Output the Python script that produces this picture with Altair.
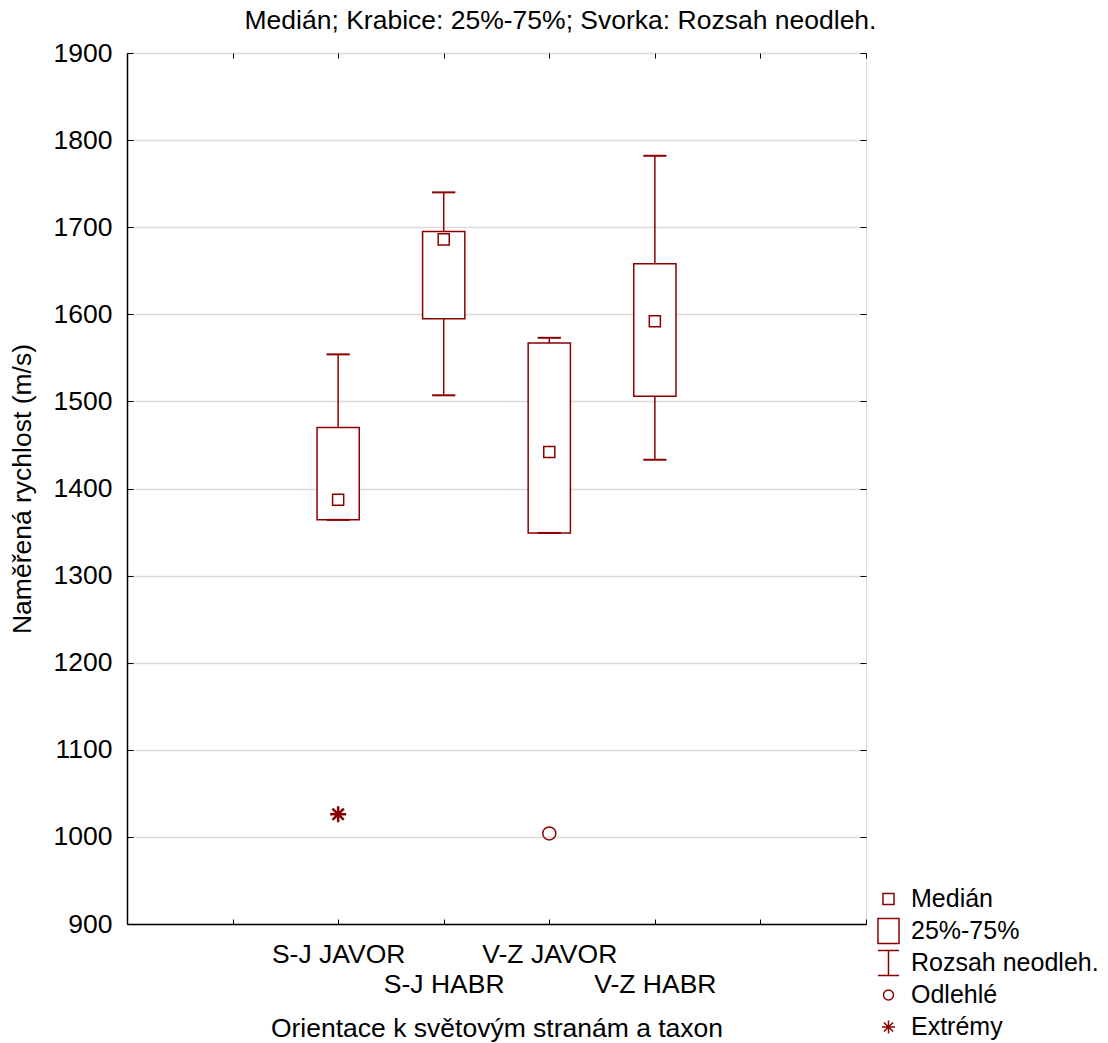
import altair as alt
import pandas as pd

# ---- data ----
categories = ["S-J JAVOR", "S-J HABR", "V-Z JAVOR", "V-Z HABR"]
positions = [2, 3, 4, 5]
medians = [1387, 1686, 1442, 1592]
q1 = [1364, 1595, 1349, 1506]
q3 = [1470, 1695, 1567, 1658]
whisker_low = [1364, 1507, 1349, 1433]
whisker_high = [1554, 1740, 1573, 1782]

outlier_pos = [4]
outlier_val = [1004]
extreme_pos = [2]
extreme_val = [1026]

y_ticks = list(range(900, 2000, 100))
x_ticks = list(range(0, 8))

legend_labels = ["Medián", "25%-75%", "Rozsah neodleh.", "Odlehlé", "Extrémy"]

# ---- styles ----
RED = "#8B0000"
FONT = "Liberation Sans"
FS = 26.5
BOX_HALF = 0.2
CAP_HALF = 0.11

shape_paths = [
    "M-0.41,-0.41H0.41V0.41H-0.41Z",
    "M-0.78,-0.93H0.78V0.93H-0.78Z",
    "M-0.78,-0.93H0.78M0,-0.93V0.93M-0.78,0.93H0.78",
    "M0.37,0A0.37,0.37,0,1,1,-0.37,0A0.37,0.37,0,1,1,0.37,0Z",
    "M-0.48,0H0.48M0,-0.48V0.48M-0.34,-0.34L0.34,0.34M-0.34,0.34L0.34,-0.34",
]

df = pd.DataFrame({
    "cat": categories, "pos": positions, "median": medians,
    "q1": q1, "q3": q3, "wlo": whisker_low, "whi": whisker_high,
})
df["kind"] = "Medián"
out_df = pd.DataFrame({"pos": outlier_pos, "val": outlier_val, "kind": "Odlehlé"})
ext_df = pd.DataFrame({"pos": extreme_pos, "val": extreme_val, "kind": "Extrémy"})

xscale = alt.Scale(domain=[0, 7], nice=False, zero=False)
yscale = alt.Scale(domain=[900, 1900], nice=False, zero=False)

label_parts = []
for i, (p, c) in enumerate(zip(positions, categories)):
    lab = f"'{c}'" if i % 2 == 0 else f"['', '{c}']"
    label_parts.append(f"datum.value == {p} ? {lab} : ")
label_expr = "".join(label_parts) + "''"

x_axis = alt.Axis(
    values=x_ticks, grid=False, tickSize={"expr": "-5"}, tickColor="black",
    domainColor="black", domainWidth=1.5, labelExpr=label_expr,
    labelFont=FONT, labelFontSize=FS, labelColor="black", labelPadding=22,
    labelLineHeight=30, labelFlush=False, labelOverlap=False, labelLimit=400,
    title="Orientace k světovým stranám a taxon", titleFont=FONT,
    titleFontSize=FS, titleFontWeight="normal", titleColor="black",
    titlePadding=18,
)
y_axis = alt.Axis(
    values=y_ticks, format="d", grid=True, gridColor="#d9d9d9", gridWidth=1.5,
    tickSize={"expr": "-6"}, tickColor="black", domainColor="black",
    domainWidth=1.5, labelFont=FONT, labelFontSize=FS, labelColor="black",
    labelPadding=21, labelFlush=False, labelOverlap=False,
    title="Naměřená rychlost (m/s)", titleFont=FONT, titleFontSize=FS,
    titleFontWeight="normal", titleColor="black", titlePadding=17,
)
x_axis_top = alt.Axis(orient="top", values=x_ticks, grid=False, labels=False,
                      tickSize={"expr": "-5"}, tickColor="black", domain=False, title=None)
y_axis_right = alt.Axis(orient="right", values=y_ticks, grid=False, labels=False,
                        tickSize={"expr": "-6"}, tickColor="black", domain=False, title=None)

base = alt.Chart(df).transform_calculate(
    xl=f"datum.pos - {BOX_HALF}", xr=f"datum.pos + {BOX_HALF}",
    cl=f"datum.pos - {CAP_HALF}", cr=f"datum.pos + {CAP_HALF}",
)

boxes = base.mark_bar(fill="white", stroke=RED, strokeWidth=1.5).encode(
    x=alt.X("xl:Q", scale=xscale, axis=x_axis),
    x2="xr:Q",
    y=alt.Y("q1:Q", scale=yscale, axis=y_axis),
    y2="q3:Q",
)

ticks_frame = base.mark_point(opacity=0).encode(
    x=alt.X("pos:Q", scale=xscale, axis=x_axis_top),
    y=alt.Y("median:Q", scale=yscale, axis=y_axis_right),
)

whisk_up = base.mark_rule(color=RED, strokeWidth=1.5).encode(
    x=alt.X("pos:Q", scale=xscale, axis=None),
    y=alt.Y("q3:Q", scale=yscale, axis=None), y2="whi:Q")
whisk_lo = base.mark_rule(color=RED, strokeWidth=1.5).encode(
    x=alt.X("pos:Q", scale=xscale, axis=None),
    y=alt.Y("wlo:Q", scale=yscale, axis=None), y2="q1:Q")
cap_up = base.mark_rule(color=RED, strokeWidth=2).encode(
    x=alt.X("cl:Q", scale=xscale, axis=None), x2="cr:Q",
    y=alt.Y("whi:Q", scale=yscale, axis=None))
cap_lo = base.mark_rule(color=RED, strokeWidth=2).encode(
    x=alt.X("cl:Q", scale=xscale, axis=None), x2="cr:Q",
    y=alt.Y("wlo:Q", scale=yscale, axis=None))

shape_scale = alt.Scale(domain=legend_labels, range=shape_paths)
legend = alt.Legend(
    title=None, orient="none", legendX=747, legendY=830, padding=0,
    symbolSize=729, symbolStrokeColor=RED, symbolFillColor="transparent",
    symbolStrokeWidth=1.5, symbolOpacity=1, labelFont=FONT, labelFontSize=25,
    labelColor="black", labelOffset=8, rowPadding=0, clipHeight=32,
    labelLimit=300,
)

med_pts = base.mark_point(filled=False, color=RED, strokeWidth=1.5, size=729, opacity=1).encode(
    x=alt.X("pos:Q", scale=xscale, axis=None),
    y=alt.Y("median:Q", scale=yscale, axis=None),
    shape=alt.Shape("kind:N", scale=shape_scale, legend=legend),
)
out_pts = alt.Chart(out_df).mark_point(filled=False, color=RED, strokeWidth=1.5, size=1234, opacity=1).encode(
    x=alt.X("pos:Q", scale=xscale, axis=None),
    y=alt.Y("val:Q", scale=yscale, axis=None),
    shape=alt.Shape("kind:N", scale=shape_scale, legend=legend),
)
ext_pts = alt.Chart(ext_df).mark_point(filled=False, color=RED, strokeWidth=2.5, size=1111, opacity=1).encode(
    x=alt.X("pos:Q", scale=xscale, axis=None),
    y=alt.Y("val:Q", scale=yscale, axis=None),
    shape=alt.Shape("kind:N", scale=shape_scale, legend=legend),
)

chart = alt.layer(
    boxes, ticks_frame, whisk_up, whisk_lo, cap_up, cap_lo, med_pts, out_pts, ext_pts
).resolve_axis(x="independent", y="independent").properties(
    width=739, height=871,
    autosize=alt.AutoSizeParams(type="none"),
    padding={"left": 127, "top": 53, "right": 242, "bottom": 119},
    title=alt.TitleParams(
        "Medián; Krabice: 25%-75%; Svorka: Rozsah neodleh.",
        font=FONT, fontSize=FS, fontWeight="normal", color="black",
        anchor="middle", dx=64, offset=6,
    ),
).configure_view(stroke="black", strokeWidth=1.5).configure(background="white")

chart.save("out.html", embed_options={"renderer": "svg", "actions": False})
